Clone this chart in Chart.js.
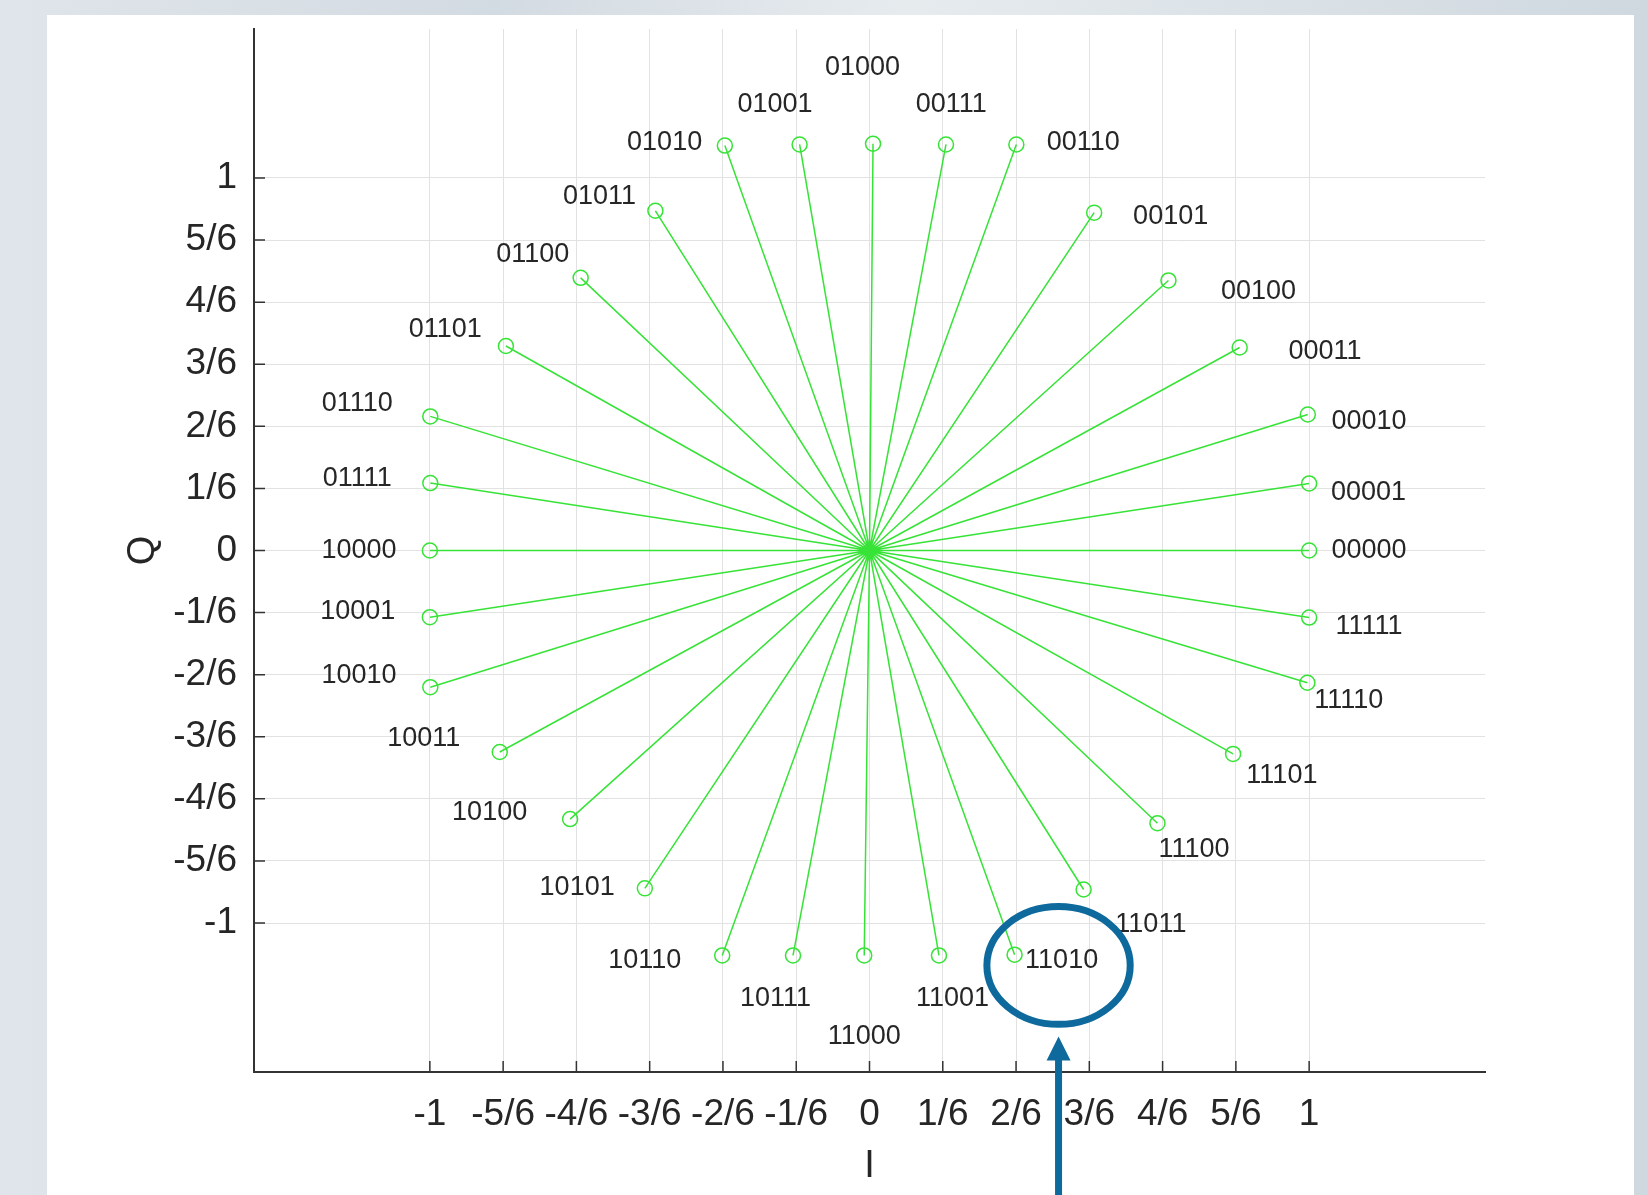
<!DOCTYPE html>
<html>
<head>
<meta charset="utf-8">
<script src="https://cdn.jsdelivr.net/npm/chart.js@4.4.1/dist/chart.umd.min.js"></script>
<style>
    html, body {
        margin: 0;
        padding: 0;
        width: 1648px;
        height: 1195px;
        overflow: hidden;
        background: linear-gradient(90deg, #dfe5ea 0%, #d3dbe2 30%, #e6ebee 55%, #d9e1e6 80%, #cfd8df 100%);
    }
    #panel {
        position: absolute;
        left: 47px;
        top: 15px;
        width: 1587px;
        height: 1180px;
        background: #ffffff;
    }
    #wrap {
        position: absolute;
        left: 0;
        top: 0;
        width: 1648px;
        height: 1195px;
    }
</style>
</head>
<body>
<div id="panel"></div>
<div id="wrap"><canvas id="constellation" width="1648" height="1195"></canvas></div>
<script>
'use strict';

// symbol codes, in the order they go round the circle
var codes = [
    '00000', '00001', '00010', '00011', '00100', '00101', '00110', '00111',
    '01000', '01001', '01010', '01011', '01100', '01101', '01110', '01111',
    '10000', '10001', '10010', '10011', '10100', '10101', '10110', '10111',
    '11000', '11001', '11010', '11011', '11100', '11101', '11110', '11111',
];

// I / Q of each symbol
var iValues = [
    1.0, 1.0, 0.997, 0.842, 0.68, 0.511, 0.334, 0.174,
    0.008, -0.159, -0.329, -0.487, -0.657, -0.827, -0.999, -0.999,
    -1.0, -1.0, -0.999, -0.841, -0.681, -0.511, -0.335, -0.174,
    -0.012, 0.158, 0.33, 0.487, 0.655, 0.827, 0.996, 1.0,
];
var qValues = [
    0, 0.18, 0.365, 0.545, 0.725, 0.907, 1.09, 1.09,
    1.092, 1.09, 1.087, 0.912, 0.732, 0.549, 0.36, 0.181,
    0, -0.179, -0.367, -0.541, -0.721, -0.907, -1.087, -1.087,
    -1.087, -1.087, -1.085, -0.91, -0.732, -0.546, -0.355, -0.18,
];

// where the code text sits (I / Q)
var labelI = [
    1.136, 1.135, 1.136, 1.036, 0.885, 0.685, 0.486, 0.186,
    -0.016, -0.215, -0.466, -0.614, -0.766, -0.965, -1.165, -1.165,
    -1.161, -1.164, -1.161, -1.014, -0.864, -0.665, -0.511, -0.214,
    -0.012, 0.189, 0.437, 0.64, 0.738, 0.938, 1.09, 1.136,
];
var labelQ = [
    0, 0.155, 0.346, 0.535, 0.696, 0.896, 1.096, 1.197,
    1.296, 1.197, 1.096, 0.949, 0.794, 0.594, 0.394, 0.192,
    0, -0.163, -0.335, -0.504, -0.704, -0.904, -1.101, -1.203,
    -1.304, -1.203, -1.101, -1.003, -0.803, -0.603, -0.403, -0.203,
];

var tickValues = [-1, -5 / 6, -4 / 6, -3 / 6, -2 / 6, -1 / 6, 0, 1 / 6, 2 / 6, 3 / 6, 4 / 6, 5 / 6, 1];
var tickLabels = ['-1', '-5/6', '-4/6', '-3/6', '-2/6', '-1/6', '0', '1/6', '2/6', '3/6', '4/6', '5/6', '1'];

// highlighted symbol: ellipse centre / radii, arrow tip / base (I / Q)
var markI = 0.43;
var markQ = -1.114;
var markRadiusI = 0.163;
var markRadiusQ = 0.158;
var arrowTipQ = -1.305;
var arrowEndQ = -1.75;

var green = '#36e336';
var axisColor = '#333333';
var textColor = '#262626';
var fontFamily = '"Liberation Sans", Arial, Helvetica, sans-serif';

Chart.defaults.font.family = fontFamily;
Chart.defaults.color = textColor;

// spokes: origin -> symbol -> origin -> next symbol ...
var spokeData = [];
codes.forEach(function (code, i) {
    spokeData.push({ x: 0, y: 0 });
    spokeData.push({ x: iValues[i], y: qValues[i] });
});

var codeLabels = {
    id: 'codeLabels',
    afterDatasetsDraw: function (chart) {
        var ctx = chart.ctx;
        var xs = chart.scales.x;
        var ys = chart.scales.y;
        ctx.save();
        ctx.font = '27px ' + fontFamily;
        ctx.fillStyle = textColor;
        ctx.textAlign = 'center';
        ctx.textBaseline = 'middle';
        codes.forEach(function (code, i) {
            ctx.fillText(code, xs.getPixelForValue(labelI[i]), ys.getPixelForValue(labelQ[i]));
        });
        ctx.restore();
    },
};

// matlab style ticks, pointing into the plot
var innerTicks = {
    id: 'innerTicks',
    afterDraw: function (chart) {
        var ctx = chart.ctx;
        var area = chart.chartArea;
        var xs = chart.scales.x;
        var ys = chart.scales.y;
        ctx.save();
        ctx.strokeStyle = axisColor;
        ctx.lineWidth = 1.5;
        ctx.beginPath();
        tickValues.forEach(function (v) {
            var px = xs.getPixelForValue(v);
            ctx.moveTo(px, area.bottom);
            ctx.lineTo(px, area.bottom - 11);
            var py = ys.getPixelForValue(v);
            ctx.moveTo(area.left, py);
            ctx.lineTo(area.left + 11, py);
        });
        ctx.stroke();
        ctx.restore();
    },
};

var highlight = {
    id: 'highlight',
    afterDraw: function (chart) {
        var ctx = chart.ctx;
        var xs = chart.scales.x;
        var ys = chart.scales.y;
        var cx = xs.getPixelForValue(markI);
        var cy = ys.getPixelForValue(markQ);
        var rx = xs.getPixelForValue(markI + markRadiusI) - cx;
        var ry = cy - ys.getPixelForValue(markQ + markRadiusQ);
        var tipY = ys.getPixelForValue(arrowTipQ);
        var endY = ys.getPixelForValue(arrowEndQ);
        ctx.save();
        ctx.strokeStyle = '#0e6a9d';
        ctx.fillStyle = '#0e6a9d';
        ctx.lineWidth = 7;
        ctx.beginPath();
        ctx.ellipse(cx, cy, rx, ry, 0, 0, Math.PI * 2);
        ctx.stroke();
        ctx.beginPath();
        ctx.moveTo(cx, tipY + 20);
        ctx.lineTo(cx, endY);
        ctx.stroke();
        ctx.beginPath();
        ctx.moveTo(cx, tipY);
        ctx.lineTo(cx - 12, tipY + 24);
        ctx.lineTo(cx + 12, tipY + 24);
        ctx.closePath();
        ctx.fill();
        ctx.restore();
    },
};

var tickFont = { size: 37, family: fontFamily };

new Chart(document.getElementById('constellation'), {
    type: 'scatter',
    data: {
        datasets: [
            {
                data: spokeData,
                showLine: true,
                borderColor: green,
                borderWidth: 1.5,
                pointRadius: function (ctx) {
                    return ctx.dataIndex % 2 ? 7.5 : 0;
                },
                pointHoverRadius: 0,
                pointBorderColor: green,
                pointBackgroundColor: 'rgba(0,0,0,0)',
                pointBorderWidth: 1.5,
            },
        ],
    },
    options: {
        responsive: false,
        animation: false,
        layout: {
            padding: { top: 29, right: 163, left: 0, bottom: 0 },
        },
        scales: {
            x: {
                type: 'linear',
                min: -1.4,
                max: 1.4,
                afterBuildTicks: function (scale) {
                    scale.ticks = tickValues.map(function (v) {
                        return { value: v };
                    });
                },
                afterFit: function (scale) {
                    scale.height = 123;
                    scale.paddingLeft = 0;
                    scale.paddingRight = 0;
                },
                ticks: {
                    font: tickFont,
                    color: textColor,
                    padding: 21,
                    autoSkip: false,
                    maxRotation: 0,
                    minRotation: 0,
                    callback: function (value, index) {
                        return tickLabels[index];
                    },
                },
                grid: {
                    color: '#e2e2e2',
                    lineWidth: 1,
                    drawTicks: false,
                },
                border: {
                    display: true,
                    color: axisColor,
                    width: 2,
                },
                title: {
                    display: true,
                    text: 'I',
                    font: { size: 38, family: fontFamily },
                    color: textColor,
                    padding: { top: 6, bottom: 6 },
                },
            },
            y: {
                type: 'linear',
                min: -1.4,
                max: 1.4,
                afterBuildTicks: function (scale) {
                    scale.ticks = tickValues.map(function (v) {
                        return { value: v };
                    });
                },
                afterFit: function (scale) {
                    scale.width = 254;
                    scale.paddingTop = 0;
                    scale.paddingBottom = 0;
                },
                ticks: {
                    font: tickFont,
                    color: textColor,
                    padding: 17,
                    autoSkip: false,
                    callback: function (value, index) {
                        return tickLabels[index];
                    },
                },
                grid: {
                    color: '#e2e2e2',
                    lineWidth: 1,
                    drawTicks: false,
                },
                border: {
                    display: true,
                    color: axisColor,
                    width: 2,
                },
                title: {
                    display: true,
                    text: 'Q',
                    font: { size: 38, family: fontFamily },
                    color: textColor,
                    padding: { top: 121, bottom: 0 },
                },
            },
        },
        plugins: {
            legend: { display: false },
            tooltip: { enabled: false },
        },
    },
    plugins: [codeLabels, innerTicks, highlight],
});
</script>
</body>
</html>
